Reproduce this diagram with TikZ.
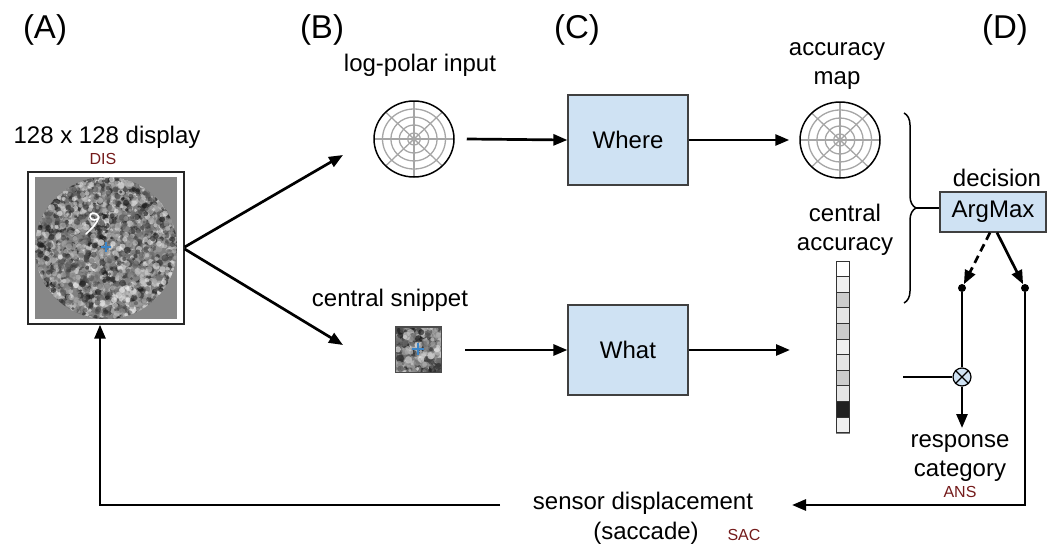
\documentclass[tikz,border=0pt]{standalone}
\usepackage{fontspec}
\setmainfont{Liberation Sans}
\usetikzlibrary{arrows.meta,shapes.geometric,decorations.pathreplacing}
\definecolor{boxblue}{HTML}{CFE2F3}
\definecolor{tagred}{HTML}{741B1B}
\definecolor{pluscol}{HTML}{3D85C6}
\definecolor{screen}{HTML}{878787}

\tikzset{
  txt/.style={font=\fontsize{24}{29}\selectfont, inner sep=0pt, align=center},
  letter/.style={font=\fontsize{33}{36}\selectfont, inner sep=0pt},
  tag/.style={font=\fontsize{16}{18}\selectfont, text=tagred, inner sep=0pt},
  module/.style={draw=black!75, fill=boxblue, line width=1.2pt, minimum width=120pt,
                 minimum height=90pt, inner sep=0pt, font=\fontsize{24}{28}\selectfont},
  arr/.style={line width=2.7pt, -{Triangle[length=14pt,width=11pt]}},
  wire/.style={line width=2.7pt},
  dot/.style={circle, fill=black, inner sep=0pt, minimum size=8pt},
  polarring/.style={draw=black!35, line width=1.3pt},
  polar/.pic={
    \foreach \r in {6,14,22,30}
      \draw[polarring] (0,0) ellipse ({\r*1.05} and \r);
    \foreach \a in {0,45,...,315}
      \draw[polarring] (0,0) -- (\a:40 and 38);
  }
}

% random mottled texture inside the current clip
\newcommand{\mottle}[6]{% x0, y0, width, height, count, blob radius
  \foreach \i in {1,...,#5}{
    \pgfmathsetmacro\px{#1+#3*rnd}
    \pgfmathsetmacro\py{#2+#4*rnd}
    \pgfmathtruncatemacro\g{5+90*rnd}
    \pgfmathsetmacro\rr{#6*(0.6+0.8*rnd)}
    \fill[black!\g!white, opacity=0.6] (\px,\py) circle (\rr pt);
  }
}

\begin{document}
\begin{tikzpicture}[x=1pt, y=-1pt]
\useasboundingbox (0,0) rectangle (1060,546);
\pgfmathsetseed{7}

% column letters
\node[letter] (la) at (45,30) {(A)};
\node[letter] (lb) at (322,30) {(B)};
\node[letter] (lc) at (577,30) {(C)};
\node[letter] (ld) at (1005,30) {(D)};

% ---- (A) the display
\node[txt] (disptitle) at (107,137) {128 x 128 display};
\node[tag] (dis) at (103,159) {DIS};
\node[draw=black!85, line width=1.4pt, fill=white, minimum width=156pt,
      minimum height=152pt, inner sep=0pt] (disp) at (106,248) {};
\fill[screen] (35,177) rectangle (177,319);
\begin{scope}
  \clip (106,248) circle (71pt);
  \fill[black!50] (106,248) circle (71pt);
  \mottle{35}{177}{142}{142}{3000}{2.5}
\end{scope}
% handwritten digit
\draw[white, line width=1.6pt, line cap=round, line join=round]
  (99,218) .. controls (97,211) and (89,212) .. (90,217)
  .. controls (91,221) and (97,221) .. (99,217)
  .. controls (97,224) and (91,229) .. (86,234);
\draw[pluscol, line width=2pt] (101,247) -- (111,247) (106,242) -- (106,252);

% ---- (B) inputs
\node[txt] (lptitle) at (420,65) {log-polar input};
\pic at (414,139) {polar};
\node[ellipse, draw=black, line width=1.5pt, minimum width=80pt, minimum height=76pt,
      inner sep=0pt] (lp) at (414,139) {};

\node[txt] (sniptitle) at (390,300) {central snippet};
\node[rectangle, draw=black!70, line width=0.8pt, minimum width=46pt, minimum height=45pt,
      inner sep=0pt] (snip) at (418,349) {};
\begin{scope}
  \clip (395,327) rectangle (441,372);
  \fill[black!50] (395,327) rectangle (441,372);
  \mottle{395}{327}{46}{45}{380}{3}
\end{scope}
\draw[black!70, line width=0.8pt] (395,327) rectangle (441,372);
\draw[pluscol, line width=2pt] (412,349) -- (424,349) (418,343) -- (418,355);

\coordinate (lpin) at (343,155);
\coordinate (snipin) at (343,345);
\draw[arr] ([yshift=1pt]disp.east) -- (lpin);
\draw[arr] ([yshift=-1pt]disp.east) -- (snipin);

% ---- (C) pathways
\node[module] (where) at (628,140) {Where};
\node[module] (what) at (628,350) {What};
\coordinate (snipout) at (465,350);
\draw[arr] ([xshift=12pt]lp.east) -- (where.west);
\draw[arr] (snipout) -- (what.west);

\node[txt] (amaptitle) at (837,66) {accuracy\\map};
\pic at (840,140) {polar};
\node[ellipse, draw=black, line width=1.5pt, minimum width=80pt, minimum height=76pt,
      inner sep=0pt] (amap) at (840,140) {};
\draw[arr] (where.east) -- ([xshift=-10pt]amap.west);

\node[txt] (cacctitle) at (845,230) {central\\accuracy};
\node[draw=black!50, line width=0.8pt, minimum width=13pt, minimum height=172pt,
      inner sep=0pt] (bar) at (842.5,347) {};
\foreach \c [count=\k from 0] in {white, black!6, black!20, black!10, black!20, black!6,
                                  black!10, black!20, black!10, black!87, black!6}
  \filldraw[fill=\c, draw=black!80, line width=0.9pt]
    (836,{261+\k*15.6}) rectangle (849,{261+(\k+1)*15.6});
\coordinate (whatend) at (790,350);
\draw[arr] (what.east) -- (whatend);

% ---- (D) decision
\draw[line width=1.5pt, decorate, decoration={brace, amplitude=12pt}] (904,113) -- (904,303);
\coordinate (bracetip) at (916,208);
\node[txt] (dectitle) at (997,178) {decision};
\node[draw=black!75, fill=boxblue, line width=1.2pt, minimum width=106pt, minimum height=40pt,
      inner sep=0pt, font=\fontsize{24}{28}\selectfont] (argmax) at (993,212) {ArgMax};
\draw[wire] (bracetip) -- (bracetip -| argmax.west);

\node[dot] (dl) at (962,288) {};
\node[dot] (dr) at (1025,288) {};
\draw[arr, dash pattern=on 8pt off 5pt] ([xshift=-3pt]argmax.south) -- (dl);
\draw[arr] ([xshift=4pt]argmax.south) -- (dr);

\node[circle, draw=black, fill=boxblue, line width=1.2pt, minimum size=18pt, inner sep=0pt]
  (mix) at (962,377) {};
\draw[line width=1.2pt] (mix.north east) -- (mix.south west) (mix.north west) -- (mix.south east);
\coordinate (mixin) at (903,377);
\draw[wire] (dl) -- (mix.north);
\draw[wire] (mixin) -- (mix.west);
\coordinate (ansin) at (962,428);
\draw[arr] (mix.south) -- (ansin);

\node[txt] (resp) at (960,458) {response\\category};
\node[tag] (ans) at (960,492) {ANS};

% ---- saccade loop
\node[txt] (sacc) at (643,503) {sensor displacement};
\node[txt] (sacc2) at (646,533) {(saccade)};
\node[tag] (sac) at (744,535) {SAC};
\coordinate (sacend) at (792,505);
\coordinate (sacstart) at (500,505);
\draw[arr] (dr) |- (sacend);
\draw[arr] (sacstart) -| ([xshift=-6pt]disp.south);
\end{tikzpicture}
\end{document}
